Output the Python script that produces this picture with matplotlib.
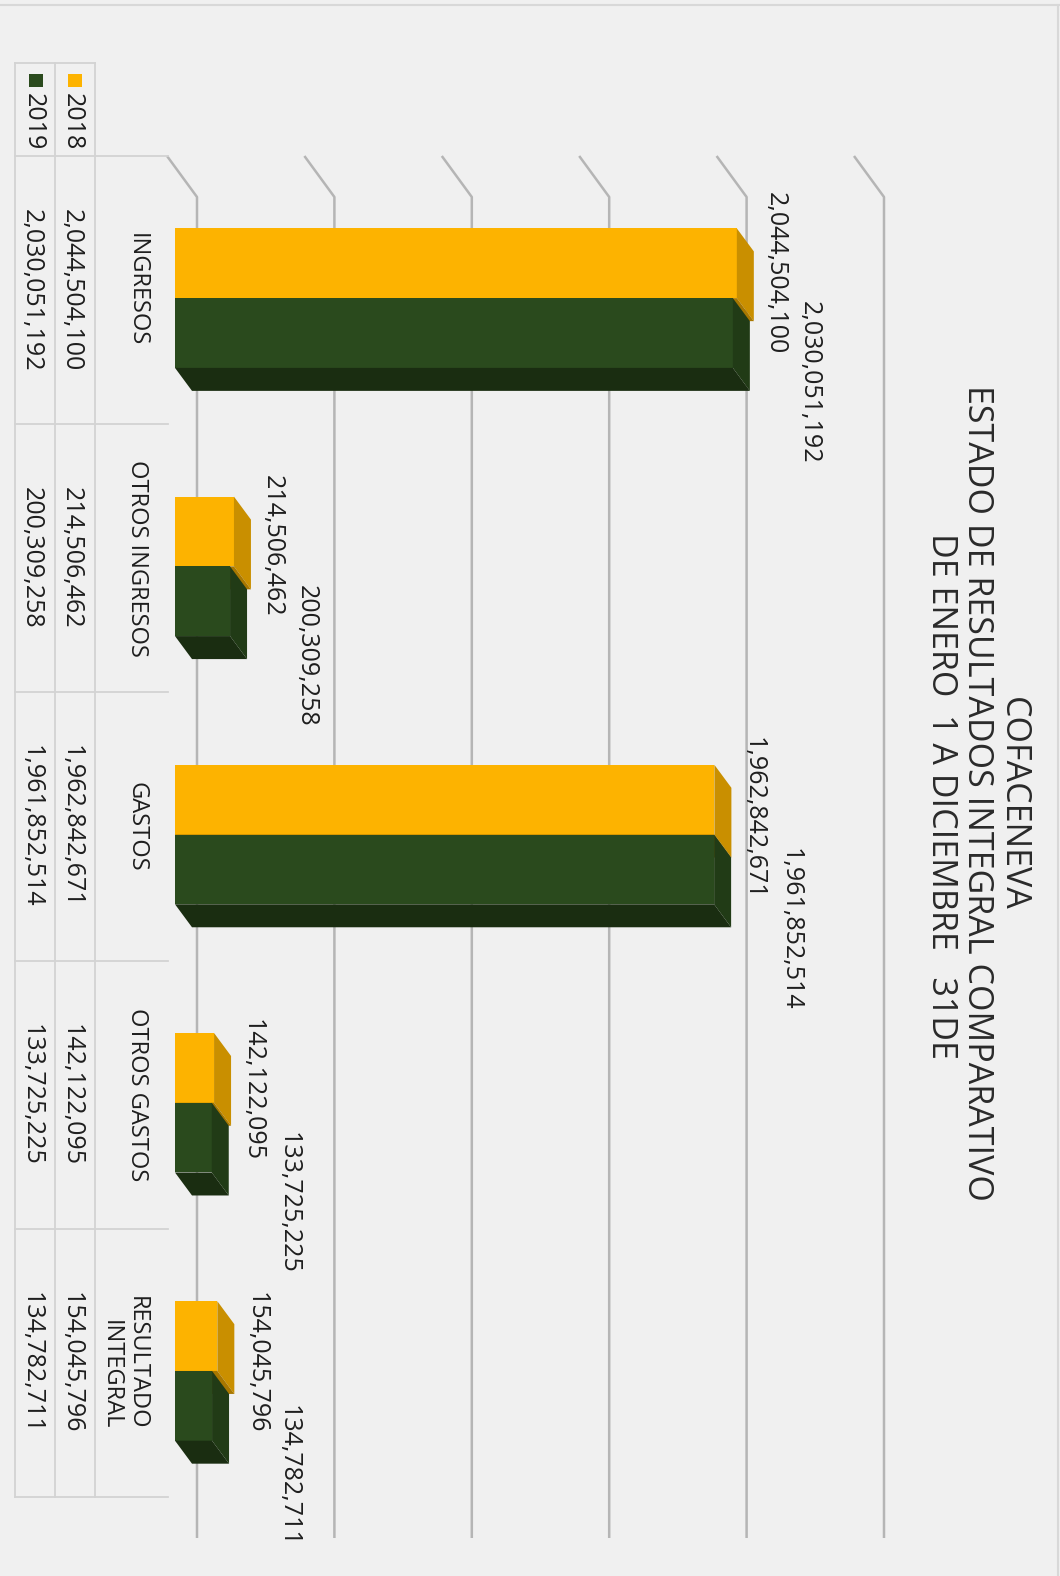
import matplotlib
matplotlib.use("Agg")
import matplotlib.pyplot as plt
from matplotlib.patches import Polygon, Rectangle
from matplotlib.lines import Line2D
import matplotlib.transforms as mtransforms

# ---------------- data ----------------
categories = ["INGRESOS", "OTROS INGRESOS", "GASTOS", "OTROS GASTOS", "RESULTADO\nINTEGRAL"]
series_names = ["2018", "2019"]
values_2018 = [2044504100, 214506462, 1962842671, 142122095, 154045796]
values_2019 = [2030051192, 200309258, 1961852514, 133725225, 134782711]
grid_ticks = [0, 500e6, 1000e6, 1500e6, 2000e6, 2500e6]
title_lines = ["COFACENEVA",
               "ESTADO DE RESULTADOS INTEGRAL COMPARATIVO",
               "DE ENERO  1 A DICIEMBRE   31DE"]

# ---------------- style ----------------
FONT = "Open Sans"
plt.rcParams["font.family"] = [FONT, "DejaVu Sans"]
BG = "#f0f0f0"
YEL = ("#fdb300", "#c98f00", "#a87700")
GRN = ("#2a4a1d", "#213b16", "#1a2d11")
GRID = "#b5b5b5"
TAB = "#d3d3d3"
TXT = "#1e1e1e"

W, H = 1060, 1576
fig = plt.figure(figsize=(W / 100, H / 100), dpi=100)
fig.patch.set_facecolor(BG)


def fx(px):
    return px / W


def fy(py):
    return 1 - py / H


n = len(categories)
ax_left, ax_right, ax_top, ax_bot = 175, 862, 156, 1497
ax = fig.add_axes([fx(ax_left), fy(ax_bot), (ax_right - ax_left) / W, (ax_bot - ax_top) / H])
ax.set_xlim(0, grid_ticks[-1])
ax.set_ylim(n, 0)
ax.axis("off")

xr = grid_ticks[-1] / (ax_right - ax_left)
yr = n / (ax_bot - ax_top)


def DX(px):
    return px * xr


def DY(py):
    return py * yr


# back-wall gridlines with slanted side-wall segment
for v in grid_ticks:
    ax.plot([v - DX(8), v + DX(22), v + DX(22)], [0, DY(41), n + DY(41)],
            color=GRID, lw=1.8, clip_on=False, zorder=1, solid_capstyle="butt")

# 3D-looking bars
bh = 0.26
ddx, ddy = DX(17), DY(23)
series = [(values_2018, 0.40, YEL, 3), (values_2019, 0.66, GRN, 4)]
for vals, cen, cols, z in series:
    pos = [i + cen for i in range(n)]
    ax.barh(pos, vals, height=bh, color=cols[0], zorder=z, clip_on=False)
    for p, v in zip(pos, vals):
        y0, y1 = p - bh / 2, p + bh / 2
        ax.add_patch(Polygon([(v, y0), (v + ddx, y0 + ddy), (v + ddx, y1 + ddy), (v, y1)],
                             closed=True, fc=cols[1], ec="none", zorder=z, clip_on=False))
        ax.add_patch(Polygon([(0, y1), (v, y1), (v + ddx, y1 + ddy), (ddx, y1 + ddy)],
                             closed=True, fc=cols[2], ec="none", zorder=z, clip_on=False))

# data labels
for i, v in enumerate(values_2018):
    ax.text(v + DX(17 + 9), i + 0.40 + DY(10 + 4.2 * i), f"{v:,}", rotation=-90,
            ha="left", va="center", fontsize=18, color=TXT, zorder=6, clip_on=False)
for i, v in enumerate(values_2019):
    ax.text(v + DX(17 + 47), i + 0.66 + DY(49 + 5.3 * i), f"{v:,}", rotation=-90,
            ha="left", va="center", fontsize=18, color=TXT, zorder=6, clip_on=False)

# ---------------- data table ----------------
bt = mtransforms.blended_transform_factory(fig.transFigure, ax.transData)
for i in range(n + 1):
    ax.plot([fx(15), fx(168)], [i, i], transform=bt, color=TAB, lw=1.3, clip_on=False, zorder=1)
for xp in (15, 55, 95):
    fig.add_artist(Line2D([fx(xp), fx(xp)], [fy(63), fy(ax_bot)], color=TAB, lw=1.3))
fig.add_artist(Line2D([fx(15), fx(95)], [fy(63), fy(63)], color=TAB, lw=1.3))

for i, c in enumerate(categories):
    ax.text(fx(149), i + 0.5, c, transform=bt, rotation=-90, ha="right", va="center",
            fontsize=17, color=TXT, clip_on=False, linespacing=1.1)
    ax.text(fx(71.5), i + 0.5, f"{values_2018[i]:,}", transform=bt, rotation=-90,
            ha="center", va="center", fontsize=18, color=TXT, clip_on=False)
    ax.text(fx(31.5), i + 0.5, f"{values_2019[i]:,}", transform=bt, rotation=-90,
            ha="center", va="center", fontsize=18, color=TXT, clip_on=False)

# legend keys in table header
for name, col, xc in ((series_names[0], YEL[0], 75), (series_names[1], GRN[0], 36)):
    fig.add_artist(Rectangle((fx(xc - 7), fy(87)), 14 / W, 13 / H, transform=fig.transFigure,
                             fc=col, ec="none"))
    fig.text(fx(xc - 3), fy(122), name, rotation=-90, ha="center", va="center",
             fontsize=18, color=TXT)

# ---------------- title ----------------
for line, xc, yc in zip(title_lines, (1012.5, 976.5, 940.5), (804, 793, 796)):
    fig.text(fx(xc), fy(yc), line, rotation=-90, ha="center", va="center",
             fontsize=24.5, color="#2a2a2a")

# outer frame
fig.add_artist(Line2D([0, 1], [fy(5), fy(5)], color="#d8d8d8", lw=1.5))
fig.add_artist(Line2D([fx(1058), fx(1058)], [fy(5), 0], color="#d8d8d8", lw=1.5))

fig.savefig("out.png", dpi=100, facecolor=BG)
